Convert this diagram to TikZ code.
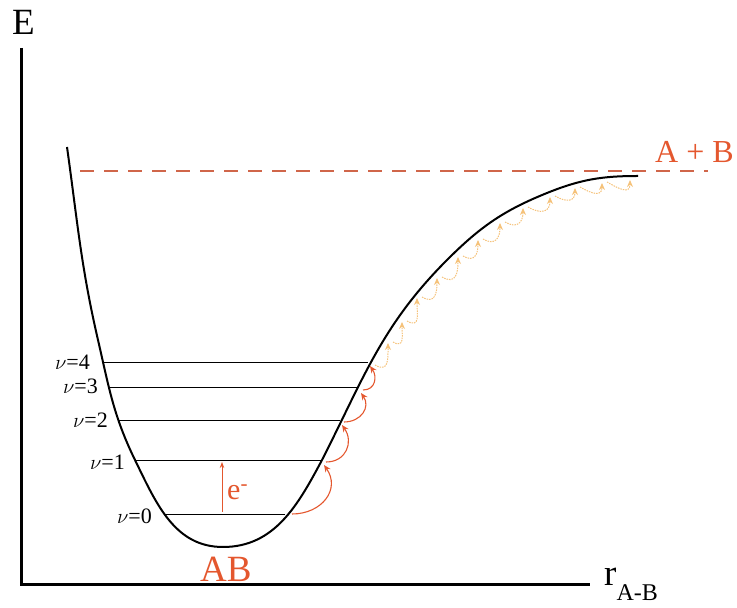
\documentclass[tikz,border=0pt]{standalone}
\usepackage{fontspec}
\setmainfont{Liberation Serif}
\usetikzlibrary{arrows.meta,positioning}
\definecolor{abred}{HTML}{E4572E}
\definecolor{dashred}{HTML}{D0664A}
\definecolor{hopyellow}{HTML}{F5C27A}

\begin{document}
\begin{tikzpicture}[x=1pt, y=1pt,
    txt/.style={inner sep=0pt, anchor=base west},
    level/.style={line width=0.9pt},
    vlabel/.style={inner sep=0pt, anchor=base east, font=\fontsize{22}{22}\selectfont},
    hop/.style={->, abred, line width=1.1pt},
    hopfaint/.style={->, hopyellow, line width=1pt, dash pattern=on 1.5pt off 1pt},
    >={Stealth[length=7pt,width=6pt]}]
  \useasboundingbox (0,0) rectangle (737,608);

  % axes
  \coordinate (origin) at (21,23);
  \coordinate (etop) at (21,560);
  \coordinate (rend) at (590,23);
  \draw[line width=3pt] (etop) -- (origin) -- (rend);
  \node[txt, font=\fontsize{37}{37}\selectfont] (elabel) at (12,573) {E};
  \node[txt, font=\fontsize{37}{37}\selectfont] (rlabel) at (604,22)
    {r\raisebox{-15pt}{\fontsize{24}{24}\selectfont A-B}};

  % dissociation limit
  \coordinate (dstart) at (80,437);
  \coordinate (dend) at (708,437);
  \draw[dashred, line width=1.8pt, dash pattern=on 14pt off 10pt] (dstart) -- (dend);
  \node[txt, abred, font=\fontsize{32}{32}\selectfont] (limit) at (655,445) {A + B};

  % potential curve
  \coordinate (wl) at (67,461);
  \coordinate (wa) at (98,268);
  \coordinate (wb) at (135,148);
  \coordinate (wmin) at (223,61);
  \coordinate (wc) at (322,148);
  \coordinate (we) at (447,348);
  \coordinate (wf) at (547,415);
  \coordinate (wr) at (638,432);
  \draw[line width=2pt] (wl) to[out=-82, in=103] (wa) to[out=-77, in=116] (wb)
    to[out=-64, in=180] (wmin) to[out=0, in=-118] (wc) to[out=63, in=-135] (we)
    to[out=45, in=-158] (wf) to[out=22, in=180] (wr);
  \node[txt, abred, font=\fontsize{37}{37}\selectfont] (ab) at (200,26) {AB};

  % vibrational levels
  \foreach \n/\y/\xl/\xr/\lx/\ly in {0/94/166/285/152/84, 1/148/135/322/125/138,
      2/188/119/340/108/180, 3/221/110/357/98/214, 4/246/103/368/90/238}{
    \coordinate (l\n a) at (\xl,\y);
    \coordinate (l\n b) at (\xr,\y);
    \draw[level] (l\n a) -- (l\n b);
    \node[vlabel] (v\n) at (\lx,\ly) {$\nu$=\n};
  }

  % excitation
  \coordinate (ebot) at (222,96);
  \coordinate (etip) at (222,146);
  \draw[->, abred, line width=1pt, >={Stealth[length=6pt,width=4.5pt]}] (ebot) -- (etip);
  \node[txt, abred, font=\fontsize{30}{30}\selectfont] (elec) at (227,108) {e\textsuperscript{-}};

  % climbing the ladder
  \foreach \x/\y [count=\i from 0] in {290/91, 324/143, 342/183, 361/215, 370/242,
      388/265, 402/286, 417/310, 437/330, 458/351, 478/368, 500/385, 523/400,
      550/411, 575/420, 602/425, 630/428}
    \coordinate (c\i) at (\x,\y);
  \foreach \i [evaluate=\i as \j using int(\i+1)] in {0,...,3}
    \draw[hop] ([shift={(2,3)}]c\i) to[out=0, in=-55, looseness=1.3] (c\j);
  \foreach \i [evaluate=\i as \j using int(\i+1)] in {4,...,15}
    \draw[hopfaint] ([shift={(5,1)}]c\i) to[out=-30, in=-90, looseness=1.6] (c\j);
\end{tikzpicture}
\end{document}
